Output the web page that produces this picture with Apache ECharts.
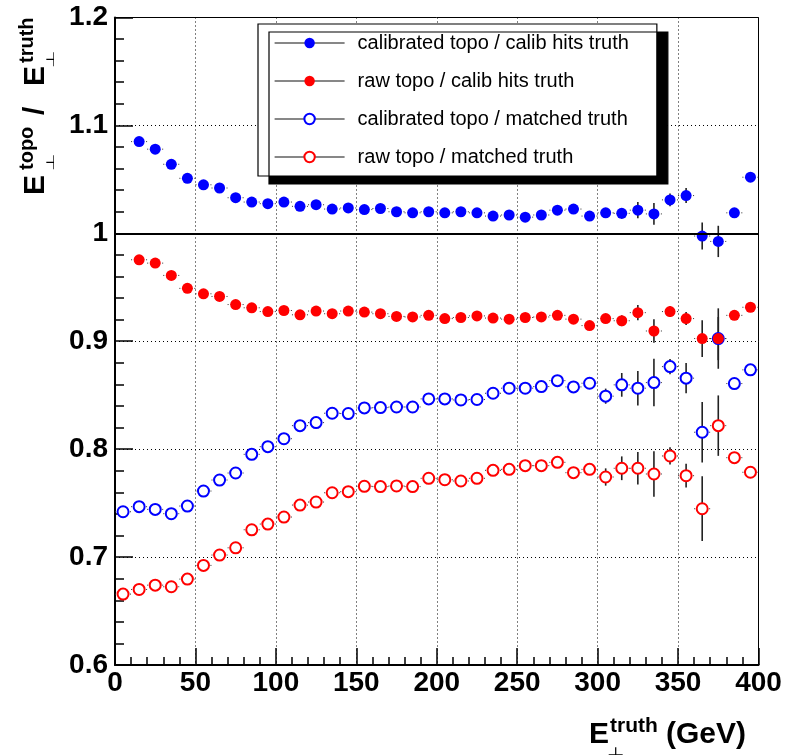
<!DOCTYPE html>
<html>
<head>
<meta charset="utf-8">
<script src="https://cdn.jsdelivr.net/npm/echarts@6/dist/echarts.min.js"></script>
<style>
  html, body { margin: 0; padding: 0; background: #fff; }
  #chart { width: 789px; height: 756px; }
</style>
</head>
<body>
<div id="chart"></div>
<script>
// Bin centres of the 10 GeV truth-ET bins (GeV)
const binCenters = [5, 15, 25, 35, 45, 55, 65, 75, 85, 95,
  105, 115, 125, 135, 145, 155, 165, 175, 185, 195,
  205, 215, 225, 235, 245, 255, 265, 275, 285, 295,
  305, 315, 325, 335, 345, 355, 365, 375, 385, 395];
// The calib-hits ratios have no entry in the first bin
const calibHitsBins = binCenters.slice(1);

const xTicks = [0, 50, 100, 150, 200, 250, 300, 350, 400];
const yTicks = [0.6, 0.7, 0.8, 0.9, 1.0, 1.1, 1.2];

const seriesNames = [
  'calibrated topo / calib hits truth',
  'raw topo / calib hits truth',
  'calibrated topo / matched truth',
  'raw topo / matched truth'
];

// calibrated topo / calib hits truth
const calibOverHits = [1.085, 1.078, 1.064, 1.051, 1.045, 1.042, 1.033, 1.029, 1.0275,
  1.029, 1.025, 1.0265, 1.0225, 1.0235, 1.022, 1.023, 1.020, 1.019, 1.020,
  1.019, 1.020, 1.019, 1.016, 1.017, 1.015, 1.017, 1.0215, 1.0225, 1.016,
  1.019, 1.0185, 1.0215, 1.018, 1.031, 1.035, 0.9975, 0.9925, 1.019, 1.052];
const calibOverHitsErr = [0.002, 0.002, 0.002, 0.002, 0.002, 0.002, 0.002, 0.002, 0.002,
  0.002, 0.002, 0.002, 0.002, 0.002, 0.002, 0.002, 0.002, 0.002, 0.002,
  0.002, 0.002, 0.002, 0.002, 0.002, 0.002, 0.002, 0.002, 0.002, 0.003,
  0.004, 0.005, 0.0075, 0.010, 0.006, 0.007, 0.0125, 0.0145, 0.004, 0.003];

// raw topo / calib hits truth
const rawOverHits = [0.9755, 0.9724, 0.961, 0.949, 0.944, 0.9415, 0.934, 0.931, 0.9275,
  0.9285, 0.9245, 0.928, 0.9255, 0.928, 0.927, 0.9255, 0.923, 0.9225, 0.924,
  0.921, 0.922, 0.9235, 0.9215, 0.9205, 0.922, 0.9225, 0.924, 0.9205, 0.9145,
  0.921, 0.919, 0.9265, 0.9095, 0.9275, 0.921, 0.9025, 0.9025, 0.924, 0.9315];
const rawOverHitsErr = [0.002, 0.002, 0.002, 0.002, 0.002, 0.002, 0.002, 0.002, 0.002,
  0.002, 0.002, 0.002, 0.002, 0.002, 0.002, 0.002, 0.002, 0.002, 0.002,
  0.002, 0.002, 0.002, 0.002, 0.002, 0.002, 0.002, 0.002, 0.002, 0.003,
  0.004, 0.005, 0.007, 0.011, 0.005, 0.006, 0.017, 0.020, 0.004, 0.003];

// calibrated topo / matched truth
const calibOverMatched = [0.742, 0.7467, 0.7442, 0.7402, 0.7473, 0.7612, 0.7714, 0.7779, 0.7952, 0.8023,
  0.8097, 0.8218, 0.8246, 0.8333, 0.833, 0.8382, 0.8385, 0.8391, 0.8391, 0.8466,
  0.8466, 0.8456, 0.846, 0.8518, 0.8565, 0.8565, 0.858, 0.8635, 0.8577, 0.8611,
  0.8491, 0.8596, 0.8565, 0.8617, 0.8765, 0.8658, 0.8157, 0.9025, 0.8608, 0.8735];
const calibOverMatchedErr = [0.003, 0.003, 0.003, 0.003, 0.003, 0.003, 0.003, 0.003, 0.003, 0.003,
  0.003, 0.003, 0.003, 0.003, 0.003, 0.003, 0.003, 0.003, 0.003, 0.003,
  0.003, 0.003, 0.003, 0.003, 0.003, 0.003, 0.003, 0.003, 0.003, 0.005,
  0.007, 0.011, 0.016, 0.022, 0.007, 0.014, 0.028, 0.028, 0.005, 0.004];

// raw topo / matched truth
const rawOverMatched = [0.6657, 0.670, 0.674, 0.6725, 0.6796, 0.6923, 0.7019, 0.7086, 0.7253, 0.7306,
  0.7371, 0.7482, 0.751, 0.7596, 0.7606, 0.7656, 0.7653, 0.7659, 0.7653, 0.773,
  0.7717, 0.7705, 0.773, 0.7804, 0.7813, 0.7847, 0.7847, 0.7878, 0.7782, 0.7813,
  0.7742, 0.7823, 0.7823, 0.777, 0.7937, 0.7754, 0.7448, 0.8218, 0.7921, 0.7786];
const rawOverMatchedErr = [0.003, 0.003, 0.003, 0.003, 0.003, 0.003, 0.003, 0.003, 0.003, 0.003,
  0.003, 0.003, 0.003, 0.003, 0.003, 0.003, 0.003, 0.003, 0.003, 0.003,
  0.003, 0.003, 0.003, 0.003, 0.003, 0.003, 0.003, 0.003, 0.003, 0.005,
  0.008, 0.011, 0.015, 0.021, 0.008, 0.011, 0.030, 0.028, 0.005, 0.004];

const binHalfWidth = 5; // GeV

const FONT = "'Liberation Sans', Arial, Helvetica, sans-serif";
const BLUE = '#0000ff';
const RED = '#ff0000';

function points(xs, ys) { return xs.map((x, i) => [x, ys[i]]); }
function withErr(xs, ys, es) { return xs.map((x, i) => [x, ys[i], es[i]]); }

// vertical stat error + dotted horizontal bin-width bar
function errorBarItem(params, api) {
  const x = api.value(0), y = api.value(1), e = api.value(2);
  const lo = api.coord([x, y - e]);
  const hi = api.coord([x, y + e]);
  const l = api.coord([x - binHalfWidth, y]);
  const r = api.coord([x + binHalfWidth, y]);
  return {
    type: 'group',
    children: [
      { type: 'line', shape: { x1: l[0], y1: l[1], x2: r[0], y2: r[1] },
        style: { stroke: '#333', lineWidth: 1, lineDash: [1, 2] } },
      { type: 'line', shape: { x1: lo[0], y1: lo[1], x2: hi[0], y2: hi[1] },
        style: { stroke: '#222', lineWidth: 1.6 } }
    ]
  };
}

function errorSeries(data) {
  return {
    type: 'custom', renderItem: errorBarItem, data: data,
    encode: { x: 0, y: 1 }, silent: true, z: 2
  };
}

function markerSeries(name, data, color, open) {
  return {
    name: name, type: 'line', data: data,
    symbol: open ? 'emptyCircle' : 'circle',
    symbolSize: open ? 11 : 11,
    showSymbol: true,
    lineStyle: { opacity: 0 },
    itemStyle: open ? { color: color, borderColor: color, borderWidth: 1.8 }
                    : { color: color, borderWidth: 0 },
    emphasis: { disabled: true },
    silent: true,
    z: 3
  };
}

// Text pieces placed by their baseline
function txt(text, x, baseline, size, opts) {
  opts = opts || {};
  return {
    type: 'text', x: x, y: baseline - 0.3465 * size,
    style: {
      text: text,
      font: (opts.weight || 'bold') + ' ' + size + 'px ' + (opts.family || FONT),
      fill: '#000', align: 'left', verticalAlign: 'middle',
      textAlign: 'left', textVerticalAlign: 'middle'
    }
  };
}
// the "perp" subscript, drawn squat
function perp(x, baseline) {
  return {
    type: 'group', x: x, y: baseline, scaleY: 0.55,
    children: [txt('\u22A5', 0, 0, 20, { weight: 'normal', family: "'DejaVu Sans', sans-serif" })]
  };
}

const yTitle = {
  type: 'group', x: 46, y: 194, rotation: Math.PI / 2,
  children: [
    txt('E', -1, 0, 30),
    txt('topo', 24, -12, 20),
    perp(23, 9),
    txt('/', 79, 0, 30),
    txt('E', 108, 0, 30),
    perp(126, 9),
    txt('truth', 131, -12, 20)
  ]
};

const xTitle = {
  type: 'group', x: 0, y: 0,
  children: [
    txt('E', 589, 745, 30),
    txt('truth', 610, 733, 21),
    perp(607, 756),
    txt('(GeV)', 666, 745, 30)
  ]
};

const chart = echarts.init(document.getElementById('chart'), null, { renderer: 'canvas' });

const option = {
  backgroundColor: '#fff',
  animation: false,
  grid: {
    left: 115, right: 30.5, top: 17.5, bottom: 91,
    show: true, borderColor: '#000', borderWidth: 1, backgroundColor: 'transparent',
    containLabel: false, outerBoundsMode: 'none'
  },
  xAxis: {
    type: 'value', min: xTicks[0], max: xTicks[xTicks.length - 1], interval: xTicks[1] - xTicks[0],
    axisLine: { show: true, onZero: false, lineStyle: { color: '#000', width: 2 } },
    axisTick: { show: true, inside: true, length: 17, lineStyle: { color: '#000', width: 1.5 } },
    minorTick: { show: true, splitNumber: 5, length: 8, lineStyle: { color: '#000', width: 1.5 } },
    splitLine: { show: true, lineStyle: { color: '#000', width: 1, type: [1, 3] } },
    axisLabel: { show: true, margin: 4, color: '#000', fontFamily: FONT, fontWeight: 'bold', fontSize: 28 }
  },
  yAxis: {
    type: 'value', min: yTicks[0], max: yTicks[yTicks.length - 1], interval: 0.1,
    axisLine: { show: true, onZero: false, lineStyle: { color: '#000', width: 2 } },
    axisTick: { show: true, inside: true, length: 18, lineStyle: { color: '#000', width: 1.5 } },
    minorTick: { show: true, splitNumber: 5, length: 9, lineStyle: { color: '#000', width: 1.5 } },
    splitLine: { show: true, lineStyle: { color: '#000', width: 1, type: [1, 3] } },
    axisLabel: {
      show: true, margin: 7, color: '#000', fontFamily: FONT, fontWeight: 'bold', fontSize: 28,
      padding: [10, 0, 0, 0],
      formatter: v => String(Math.round(v * 10) / 10)
    }
  },
  legend: {
    orient: 'vertical', left: 258, top: 24,
    padding: [9, 28, 9, 16], itemGap: 18,
    itemWidth: 70, itemHeight: 13,
    backgroundColor: '#fff', borderColor: '#000', borderWidth: 1.2,
    shadowColor: '#000', shadowBlur: 0, shadowOffsetX: 11, shadowOffsetY: 8,
    selectedMode: false,
    data: seriesNames,
    lineStyle: { color: '#111', width: 1.2, opacity: 1, type: 'solid' },
    textStyle: { color: '#000', fontFamily: FONT, fontSize: 20, padding: [0, 0, 0, 8] }
  },
  series: [
    errorSeries(withErr(binCenters, calibOverMatched, calibOverMatchedErr)),
    errorSeries(withErr(binCenters, rawOverMatched, rawOverMatchedErr)),
    errorSeries(withErr(calibHitsBins, calibOverHits, calibOverHitsErr)),
    errorSeries(withErr(calibHitsBins, rawOverHits, rawOverHitsErr)),
    markerSeries(seriesNames[2], points(binCenters, calibOverMatched), BLUE, true),
    markerSeries(seriesNames[3], points(binCenters, rawOverMatched), RED, true),
    Object.assign(markerSeries(seriesNames[0], points(calibHitsBins, calibOverHits), BLUE, false), {
      markLine: {
        silent: true, symbol: 'none', label: { show: false },
        lineStyle: { color: '#000', width: 2, type: 'solid' },
        data: [{ yAxis: 1 }]
      }
    }),
    markerSeries(seriesNames[1], points(calibHitsBins, rawOverHits), RED, false)
  ],
  graphic: [yTitle, xTitle]
};

chart.setOption(option);
</script>
</body>
</html>
